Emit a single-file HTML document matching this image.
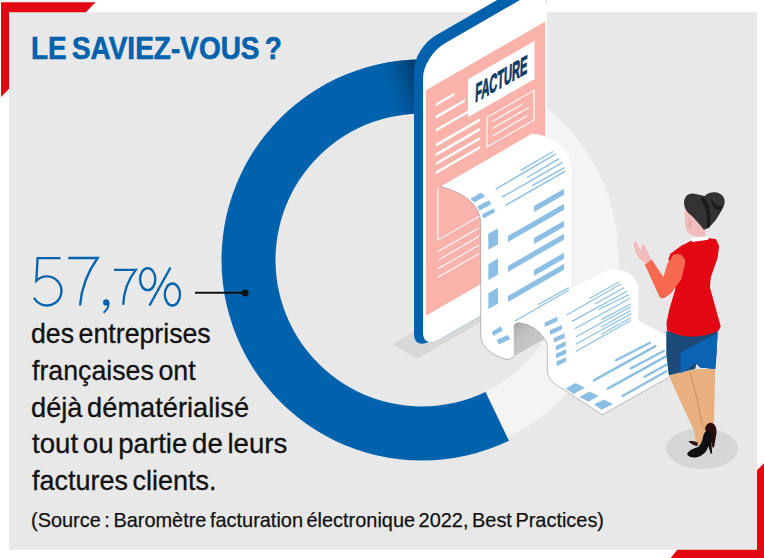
<!DOCTYPE html>
<html><head><meta charset="utf-8"><style>
html,body{margin:0;padding:0;background:#fff;width:764px;height:558px;overflow:hidden;position:relative}
svg{position:absolute;left:0;top:0}
.t{position:absolute;font-family:"Liberation Sans",sans-serif;white-space:nowrap;line-height:1;transform-origin:0 0}
</style></head><body>
<svg width="764" height="558" viewBox="0 0 764 558">
<defs><linearGradient id="sh" x1="0" x2="1" y1="0.75" y2="0.25"><stop offset="0.25" stop-color="#0062ad" stop-opacity="0"/><stop offset="0.6" stop-color="#004f8f" stop-opacity="0.6"/><stop offset="1" stop-color="#003a6a" stop-opacity="1"/></linearGradient><linearGradient id="curl" x1="0" x2="1" y1="0" y2="1"><stop offset="0" stop-color="#a9a9a9"/><stop offset="0.35" stop-color="#c3c3c3"/><stop offset="1" stop-color="#c9c9c9"/></linearGradient></defs>
<rect x="9" y="12.3" width="748" height="537.5" fill="#e8e8e8"/>
<polygon fill="#e30613" points="1,2.2 95.7,2.2 85.8,12.3 9,12.3 9,89 1,97"/>
<polygon fill="#e30613" points="757,470.3 765,462.3 765,559 669.8,559 677.3,549.8 757,549.8"/>
<path fill="#f4f4f4" d="M507.43,437.51 A197,197 0 0 0 422,63 L422,113.5 A146.5,146.5 0 0 1 485.53,392.01 Z"/>
<path fill="#0062ad" d="M422,59.5 A200.5,200.5 0 1 0 508.95,440.67 L485.53,392.01 A146.5,146.5 0 1 1 422,113.5 Z"/>
<clipPath id="dc"><path d="M422,59.5 A200.5,200.5 0 1 0 508.95,440.67 L485.53,392.01 A146.5,146.5 0 1 1 422,113.5 Z"/></clipPath>
<rect x="372" y="50" width="44" height="70" fill="url(#sh)" clip-path="url(#dc)"/>
<polygon fill="#d8d8d8" points="392,344.4 417.7,358.5 545,285 519,270"/>
<path transform="translate(-0.00,-0.00) matrix(1,-0.5774,0,1,0,244.240)" d="M423,78 A22,22 0 0 1 445,56 L527,56 A20,20 0 0 1 547,76 L547,329 A20,20 0 0 1 527,349 L439,349 A16,16 0 0 1 423,333 Z" fill="#0062ad"/>
<path transform="translate(-0.75,-0.67) matrix(1,-0.5774,0,1,0,244.240)" d="M423,78 A22,22 0 0 1 445,56 L527,56 A20,20 0 0 1 547,76 L547,329 A20,20 0 0 1 527,349 L439,349 A16,16 0 0 1 423,333 Z" fill="#0062ad"/>
<path transform="translate(-1.50,-1.33) matrix(1,-0.5774,0,1,0,244.240)" d="M423,78 A22,22 0 0 1 445,56 L527,56 A20,20 0 0 1 547,76 L547,329 A20,20 0 0 1 527,349 L439,349 A16,16 0 0 1 423,333 Z" fill="#0062ad"/>
<path transform="translate(-2.25,-2.00) matrix(1,-0.5774,0,1,0,244.240)" d="M423,78 A22,22 0 0 1 445,56 L527,56 A20,20 0 0 1 547,76 L547,329 A20,20 0 0 1 527,349 L439,349 A16,16 0 0 1 423,333 Z" fill="#0062ad"/>
<path transform="translate(-3.00,-2.67) matrix(1,-0.5774,0,1,0,244.240)" d="M423,78 A22,22 0 0 1 445,56 L527,56 A20,20 0 0 1 547,76 L547,329 A20,20 0 0 1 527,349 L439,349 A16,16 0 0 1 423,333 Z" fill="#0062ad"/>
<path transform="translate(-3.75,-3.33) matrix(1,-0.5774,0,1,0,244.240)" d="M423,78 A22,22 0 0 1 445,56 L527,56 A20,20 0 0 1 547,76 L547,329 A20,20 0 0 1 527,349 L439,349 A16,16 0 0 1 423,333 Z" fill="#0062ad"/>
<path transform="translate(-4.50,-4.00) matrix(1,-0.5774,0,1,0,244.240)" d="M423,78 A22,22 0 0 1 445,56 L527,56 A20,20 0 0 1 547,76 L547,329 A20,20 0 0 1 527,349 L439,349 A16,16 0 0 1 423,333 Z" fill="#0062ad"/>
<path transform="translate(-5.25,-4.67) matrix(1,-0.5774,0,1,0,244.240)" d="M423,78 A22,22 0 0 1 445,56 L527,56 A20,20 0 0 1 547,76 L547,329 A20,20 0 0 1 527,349 L439,349 A16,16 0 0 1 423,333 Z" fill="#0062ad"/>
<path transform="translate(-6.00,-5.33) matrix(1,-0.5774,0,1,0,244.240)" d="M423,78 A22,22 0 0 1 445,56 L527,56 A20,20 0 0 1 547,76 L547,329 A20,20 0 0 1 527,349 L439,349 A16,16 0 0 1 423,333 Z" fill="#0062ad"/>
<path transform="translate(-6.75,-6.00) matrix(1,-0.5774,0,1,0,244.240)" d="M423,78 A22,22 0 0 1 445,56 L527,56 A20,20 0 0 1 547,76 L547,329 A20,20 0 0 1 527,349 L439,349 A16,16 0 0 1 423,333 Z" fill="#0062ad"/>
<path transform="translate(-7.50,-6.67) matrix(1,-0.5774,0,1,0,244.240)" d="M423,78 A22,22 0 0 1 445,56 L527,56 A20,20 0 0 1 547,76 L547,329 A20,20 0 0 1 527,349 L439,349 A16,16 0 0 1 423,333 Z" fill="#0062ad"/>
<path transform="translate(-8.25,-7.33) matrix(1,-0.5774,0,1,0,244.240)" d="M423,78 A22,22 0 0 1 445,56 L527,56 A20,20 0 0 1 547,76 L547,329 A20,20 0 0 1 527,349 L439,349 A16,16 0 0 1 423,333 Z" fill="#0062ad"/>
<path transform="translate(-9.00,-8.00) matrix(1,-0.5774,0,1,0,244.240)" d="M423,78 A22,22 0 0 1 445,56 L527,56 A20,20 0 0 1 547,76 L547,329 A20,20 0 0 1 527,349 L439,349 A16,16 0 0 1 423,333 Z" fill="#0062ad"/>
<path transform="translate(-9,1.5) matrix(1,-0.5774,0,1,0,244.240)" d="M423,78 A22,22 0 0 1 445,56 L527,56 A20,20 0 0 1 547,76 L547,329 A20,20 0 0 1 527,349 L439,349 A16,16 0 0 1 423,333 Z" fill="#0062ad"/>
<path transform="matrix(1,-0.5774,0,1,0,244.240)" d="M423,78 A22,22 0 0 1 445,56 L527,56 A20,20 0 0 1 547,76 L547,329 A20,20 0 0 1 527,349 L439,349 A16,16 0 0 1 423,333 Z" fill="#ffffff"/>
<g transform="matrix(1,-0.5774,0,1,0,244.240)">
<rect x="425.9" y="92" width="119.3" height="225.5" fill="#f9b3aa"/>
<rect x="468" y="105.3" width="66.5" height="38" fill="#ffffff"/>
<rect x="487" y="154.5" width="47" height="29.5" fill="none" stroke="#ffffff" stroke-width="1.2"/>
<line x1="493" y1="161.5" x2="522" y2="161.5" stroke="#fff" stroke-width="1.3" stroke-linecap="round"/>
<line x1="493" y1="168.5" x2="529" y2="168.5" stroke="#fff" stroke-width="1.3" stroke-linecap="round"/>
<line x1="493" y1="176" x2="527" y2="176" stroke="#fff" stroke-width="1.3" stroke-linecap="round"/>
<line x1="437" y1="112.2" x2="453" y2="112.2" stroke="#fff" stroke-width="2.8" stroke-linecap="round"/>
<line x1="437" y1="124.6" x2="463.7" y2="124.6" stroke="#fff" stroke-width="2.8" stroke-linecap="round"/>
<line x1="437" y1="137.8" x2="468.3" y2="137.8" stroke="#fff" stroke-width="2.8" stroke-linecap="round"/>
<line x1="437" y1="152.6" x2="479" y2="152.6" stroke="#fff" stroke-width="2.8" stroke-linecap="round"/>
<line x1="437" y1="162.1" x2="479" y2="162.1" stroke="#fff" stroke-width="2.8" stroke-linecap="round"/>
<line x1="437" y1="171.3" x2="479" y2="171.3" stroke="#fff" stroke-width="2.8" stroke-linecap="round"/>
<line x1="437" y1="180.2" x2="479" y2="180.2" stroke="#fff" stroke-width="2.8" stroke-linecap="round"/>
<path d="M437.8,195.7 L437.8,248.8 L480,248.8" fill="none" stroke="#ffffff" stroke-width="1.1"/>
<line x1="437.8" y1="260.2" x2="479" y2="260.2" stroke="#fff" stroke-width="1.2" stroke-linecap="butt"/>
<line x1="437.8" y1="268.8" x2="479" y2="268.8" stroke="#fff" stroke-width="1.2" stroke-linecap="butt"/>
<line x1="437.8" y1="277.4" x2="479" y2="277.4" stroke="#fff" stroke-width="1.2" stroke-linecap="butt"/>
<line x1="437.8" y1="286" x2="479" y2="286" stroke="#fff" stroke-width="1.2" stroke-linecap="butt"/>
</g>
<text transform="matrix(0.46,-0.26,-0.04,1.08,475,102.4)" font-family="Liberation Sans" font-weight="bold" font-size="24" fill="#0d3a66" stroke="#0d3a66" stroke-width="1">FACTURE</text>
<path fill="#ffffff" d="M440.7,186.4 L532.3,133.6 Q569,138 572.5,172 L572.5,287.5 L608.7,269.2 Q636,268 639,290 L639,320.5 L668.3,337 L668.3,377.6 L602.3,414.7 L562,388.6 Q547.3,381 547.3,370 L547.3,345.5 Q547,341 544.5,339 L513.8,356.2 Q511,360 506,359.5 Q481,352 480.7,334 L480.7,222 Q479,197 440.7,186.4 Z"/>
<path fill="none" stroke="#9a9a9a" stroke-width="0.7" d="M440.7,186.4 Q479,197 480.7,222 L480.7,334 Q481,352 506,359.5 Q511,360 513.8,356.2"/>
<path fill="none" stroke="#a0a0a0" stroke-width="0.7" d="M544.5,339 Q547,341 547.3,345.5 L547.3,370 Q547.3,381 562,388.6 L602.3,414.7 L668.3,377.6"/>
<path fill="none" stroke="#dedede" stroke-width="0.6" d="M572.5,172 L572.5,287.5 M639,290 L639,320.5"/>
<path fill="url(#curl)" d="M513.8,356.2 L513.8,327 Q514.5,322.5 520,322.8 Q537,326 544.5,339 Z"/>
<path fill="none" stroke="#8f8f8f" stroke-width="0.6" d="M513.8,327 Q514.5,322.5 520,322.8 Q537,326 544.5,339"/>
<line x1="520.7" y1="170.3" x2="553" y2="151.5" stroke="#8cbfe3" stroke-width="1.4" stroke-linecap="butt"/>
<line x1="495.6" y1="189.1" x2="555.6" y2="154.2" stroke="#8cbfe3" stroke-width="1.4" stroke-linecap="butt"/>
<line x1="527" y1="177.5" x2="559.2" y2="158.7" stroke="#8cbfe3" stroke-width="1.4" stroke-linecap="butt"/>
<line x1="501.9" y1="197.2" x2="562.8" y2="162.3" stroke="#8cbfe3" stroke-width="1.4" stroke-linecap="butt"/>
<line x1="532.3" y1="185.6" x2="564.6" y2="167.6" stroke="#8cbfe3" stroke-width="1.4" stroke-linecap="butt"/>
<line x1="505.5" y1="205.3" x2="565.5" y2="171.2" stroke="#8cbfe3" stroke-width="1.4" stroke-linecap="butt"/>
<polygon fill="#8cbfe3" points="470.4,198.8 481.1,192.5 485.2,196.6 474,202.4"/>
<polygon fill="#8cbfe3" points="477.1,206.4 488.7,200.2 491.4,204.2 479.8,210.5"/>
<polygon fill="#8cbfe3" points="482,214.5 493.7,208.2 495,212.3 483.4,218.5"/>
<polygon fill="#8cbfe3" points="488.3,233.8 498,228.2 498,244.2 488.3,249.8"/>
<polygon fill="#8cbfe3" points="488.3,264.2 498,258.6 498,274.6 488.3,280.2"/>
<polygon fill="#8cbfe3" points="488.3,293.2 498,287.6 498,303.6 488.3,309.2"/>
<polygon fill="#8cbfe3" points="534,206 564,188.68 564,194.68 534,212"/>
<polygon fill="#8cbfe3" points="508,236 564,203.67 564,209.67 508,242"/>
<polygon fill="#8cbfe3" points="534,238 564,220.68 564,226.68 534,244"/>
<polygon fill="#8cbfe3" points="508,266 564,233.67 564,239.67 508,272"/>
<polygon fill="#8cbfe3" points="534,270 564,252.68 564,258.68 534,276"/>
<polygon fill="#8cbfe3" points="508,296 564,263.67 564,269.67 508,302"/>
<line x1="537.7" y1="304.8" x2="569" y2="287.6" stroke="#8cbfe3" stroke-width="1.2" stroke-linecap="butt"/>
<line x1="515" y1="321" x2="569" y2="290" stroke="#8cbfe3" stroke-width="1.2" stroke-linecap="butt"/>
<polygon fill="#8cbfe3" points="491.6,332 500.5,326.5 502.8,330.5 493.5,335.8"/>
<polygon fill="#8cbfe3" points="496.6,340 507.5,335 510.4,339 499,344.5"/>
<line x1="589.5" y1="298.5" x2="618.8" y2="282" stroke="#8cbfe3" stroke-width="1.2" stroke-linecap="butt"/>
<line x1="566.6" y1="315" x2="621.5" y2="283.8" stroke="#8cbfe3" stroke-width="1.2" stroke-linecap="butt"/>
<line x1="595" y1="304" x2="624.3" y2="287.5" stroke="#8cbfe3" stroke-width="1.2" stroke-linecap="butt"/>
<line x1="572" y1="321.4" x2="627" y2="291.2" stroke="#8cbfe3" stroke-width="1.2" stroke-linecap="butt"/>
<line x1="598.6" y1="309.5" x2="628.9" y2="294.8" stroke="#8cbfe3" stroke-width="1.2" stroke-linecap="butt"/>
<line x1="574.8" y1="328.7" x2="629.8" y2="298.5" stroke="#8cbfe3" stroke-width="1.2" stroke-linecap="butt"/>
<line x1="601.4" y1="319.6" x2="630.7" y2="304" stroke="#8cbfe3" stroke-width="1.2" stroke-linecap="butt"/>
<line x1="575.7" y1="337" x2="630.7" y2="306.7" stroke="#8cbfe3" stroke-width="1.2" stroke-linecap="butt"/>
<line x1="601.4" y1="326.9" x2="630.7" y2="310.5" stroke="#8cbfe3" stroke-width="1.2" stroke-linecap="butt"/>
<line x1="575.7" y1="344.3" x2="631.6" y2="313.5" stroke="#8cbfe3" stroke-width="1.2" stroke-linecap="butt"/>
<line x1="601.4" y1="334.2" x2="630.7" y2="317.7" stroke="#8cbfe3" stroke-width="1.2" stroke-linecap="butt"/>
<line x1="575.7" y1="351.6" x2="630.7" y2="320.6" stroke="#8cbfe3" stroke-width="1.2" stroke-linecap="butt"/>
<polygon fill="#8cbfe3" points="544.6,322.5 557.4,316.74 557.4,321.34 544.6,327.1"/>
<polygon fill="#8cbfe3" points="550,330.3 562,324.9 562,329.5 550,334.9"/>
<polygon fill="#8cbfe3" points="553.7,338.1 564.7,333.15 564.7,337.75 553.7,342.7"/>
<polygon fill="#8cbfe3" points="555.6,345.9 565.7,341.35 565.7,345.95 555.6,350.5"/>
<polygon fill="#8cbfe3" points="556,353.7 566,349.2 566,353.8 556,358.3"/>
<polygon fill="#8cbfe3" points="556.5,361.5 566,357.23 566,361.83 556.5,366.1"/>
<line x1="616" y1="360.2" x2="650" y2="342.8" stroke="#8cbfe3" stroke-width="2.4" stroke-linecap="round"/>
<line x1="594" y1="380.4" x2="655.4" y2="346.1" stroke="#8cbfe3" stroke-width="2.4" stroke-linecap="round"/>
<line x1="630.7" y1="368.5" x2="663.7" y2="351" stroke="#8cbfe3" stroke-width="2.4" stroke-linecap="round"/>
<line x1="607.8" y1="388.6" x2="665.5" y2="356.6" stroke="#8cbfe3" stroke-width="2.4" stroke-linecap="round"/>
<line x1="644.5" y1="376.7" x2="666.4" y2="364.8" stroke="#8cbfe3" stroke-width="2.4" stroke-linecap="round"/>
<line x1="622.5" y1="396" x2="666.4" y2="371.2" stroke="#8cbfe3" stroke-width="2.4" stroke-linecap="round"/>
<polygon fill="#8cbfe3" points="565.7,388.6 575.7,383.1 584.9,387.7 573.9,394.1"/>
<polygon fill="#8cbfe3" points="579.4,396.9 589.5,391.4 598.6,396 588.6,401.8"/>
<polygon fill="#8cbfe3" points="594,404.2 604.1,399.6 612.9,404.2 601.4,409.7"/>
<ellipse cx="702" cy="448.6" rx="36" ry="20.4" fill="#d6d6d6"/>
<path fill="#e9b07f" d="M668.8,375.2 L697.6,368.9 L715.2,369 L714,422.8 L706,428 L701.4,445.4 L696.4,444.1 L693.9,430.3 L678.8,397.7 Z"/>
<path fill="none" stroke="#d39564" stroke-width="1.3" d="M690,372 Q698,400 703,428"/>
<path fill="#2b0b0b" d="M705,428 Q707,422.5 711.5,422.8 Q717,424.5 716.5,433 L714,447.5 L712.5,447.5 L711,441 L707,436 Z"/>
<path fill="#2b0b0b" d="M688.3,441.3 Q693,440.5 697.5,442.5 L697.8,446 Q692,445.5 688.3,441.3 Z"/>
<path fill="#0f0f0f" d="M687,454 Q689,449.5 698,447 Q702,444 703,437 Q704,431.5 707,431 Q710.5,431 711,437 L712.2,453.5 L710.5,453.5 L708.5,446 Q706,455 697,457.2 Q689,458.5 687,454 Z"/>
<path fill="#194a78" d="M666.3,331.3 L717.7,330 L716.5,355 L715.2,368.9 L700.1,367.6 L696.4,363.9 L695.1,368.9 L668.8,375.2 L666.3,355 Z"/>
<path fill="#0d63b3" d="M680.3,353 Q698,343 717.7,333 L715.2,368.9 L700.1,367.6 L696.4,362.6 L680.8,373.5 Z"/>
<path fill="#e30613" d="M691.1,240.8 L706.9,237.9 L715.8,238.9 L719.1,245.8 L717.7,257.6 L710.8,277.3 L709.9,287.2 L714.8,305 L719.7,322.7 L720.7,326.6 L718.7,330.6 Q692,343 667,330.6 L666.5,322.7 L669.4,308.9 L675.3,289.2 L673.4,273.4 L668.4,259.6 L670.4,253.7 L681.3,245.8 Z"/>
<path fill="#f4694f" d="M673.4,254.7 Q680,253 682.2,255.6 Q686,260 685.2,263.5 L681.3,279.3 L671.4,293.1 L664.5,298 Q661,299 659.6,297.1 L644.8,264.5 L651.7,259.6 L663.5,277.3 L667.4,263.5 Z"/>
<path fill="#f2bcbd" d="M645.5,264 L651.7,259.6 Q647,251 644.5,245 Q643,243.2 642,245 L640.8,250.5 Q638,246 636.5,241.5 Q634,240.5 633.8,243 Q633.5,252 640,259 Z"/>
<path fill="#f0bcbd" d="M685,206 C684.5,220 685,229 688,232.5 C690.5,235 694,236.5 700,236.8 L705.5,236.5 L705.5,229 L699,223 L691,215.3 Z"/>
<path fill="#e3a5a8" d="M689,218 C692,221 692,226 690,229 C688.5,226 688.5,221 689,218 Z"/>
<path fill="#ffffff" d="M691,238.2 L708.4,236.3 L708.4,239.7 L692.1,242.1 Z"/>
<path fill="#333333" d="M684,203 C684,196 689,193 694,193.7 C698,194 701,195.5 705,196 C707,193 711,192 715,192.2 C721,192.5 725,197 724.7,202 C724.5,206 722,210 716.6,218.8 C713,224 708,229 703.8,229.8 C701,226 696,220 691,215.3 C688,212.5 684.6,210 684,203 Z"/>
<path fill="#1b1b1b" d="M703,197 C710,203 712,215 709.5,227.5 L707,228.5 C708,217 706,206 700.5,199 Z"/>
<path fill="#1b1b1b" d="M712,199 C714,204 718,207 722.5,205.5 L721,210 C716,211 712,207 711,201 Z"/>
<g fill="none" stroke="#0062ad" stroke-width="2.3" stroke-linecap="butt">
<path d="M60.5,258.2 L37.6,258.2 L36.3,280.8 A14.6,14.6 0 1 1 34.0,297.8"/>
<path d="M68.3,258 L97.6,258 Q82,280 80,305.5"/>
<path d="M114,269.9 L135.8,269.9 Q124,285 123.2,304.7"/>
<ellipse cx="147.7" cy="279.2" rx="7.6" ry="11"/>
<ellipse cx="172.4" cy="294.5" rx="7.6" ry="11"/>
<path d="M170.5,267.5 L149.5,305.5"/>
</g>
<circle cx="106.2" cy="302.4" r="3.1" fill="#0062ad"/><path fill="none" stroke="#0062ad" stroke-width="2" d="M108.6,303 Q108.5,309 103.5,312.8"/>
<line x1="195" y1="292.8" x2="244" y2="292.8" stroke="#111" stroke-width="2"/><circle cx="245.2" cy="293" r="3.4" fill="#111"/>
</svg>
<div class="t" id="title" style="left:31.13px;top:32.8px;font-size:31.7px;font-weight:bold;color:#0062ad;-webkit-text-stroke:0.6px #0062ad;word-spacing:-3px;transform:scaleX(0.8832)">LE SAVIEZ-VOUS ?</div>
<div class="t" id="l1" style="left:30.55px;top:320px;font-size:28px;color:#111;-webkit-text-stroke:0.3px #111;word-spacing:-3px;transform:scaleX(0.9538)">des entreprises</div>
<div class="t" id="l2" style="left:31.5px;top:356.8px;font-size:28px;color:#111;-webkit-text-stroke:0.3px #111;word-spacing:-3px;transform:scaleX(0.9547)">françaises ont</div>
<div class="t" id="l3" style="left:30.53px;top:393.6px;font-size:28px;color:#111;-webkit-text-stroke:0.3px #111;word-spacing:-3px;transform:scaleX(0.9724)">déjà dématérialisé</div>
<div class="t" id="l4" style="left:31.5px;top:430.4px;font-size:28px;color:#111;-webkit-text-stroke:0.3px #111;word-spacing:-3px;transform:scaleX(0.9864)">tout ou partie de leurs</div>
<div class="t" id="l5" style="left:31.5px;top:467.2px;font-size:28px;color:#111;-webkit-text-stroke:0.3px #111;word-spacing:-3px;transform:scaleX(0.9633)">factures clients.</div>
<div class="t" id="src" style="left:30.91px;top:510.3px;font-size:20.2px;color:#111;-webkit-text-stroke:0.25px #111;word-spacing:-2px;transform:scaleX(0.9867)">(Source : Baromètre facturation électronique 2022, Best Practices)</div>
</body></html>
